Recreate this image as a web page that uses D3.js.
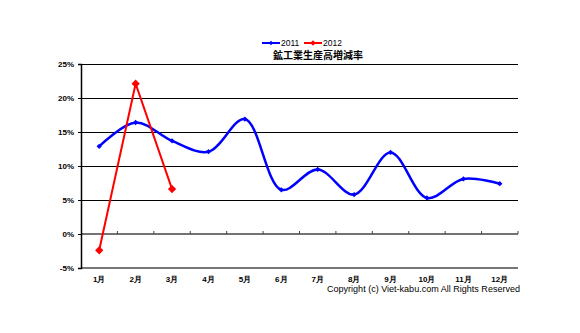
<!DOCTYPE html>
<html><head><meta charset="utf-8">
<script src="https://cdn.jsdelivr.net/npm/d3@7"></script>
<style>body{margin:0;background:#fff}svg{display:block}</style>
</head><body>
<script>
const months = ["1月","2月","3月","4月","5月","6月","7月","8月","9月","10月","11月","12月"];
const series2011 = [12.9,16.4,13.7,12.1,16.9,6.5,9.5,5.8,12.0,5.3,8.1,7.4];
const series2012 = [-2.4,22.1,6.6];
const yTicks = [-5,0,5,10,15,20,25];
const yTickLabels = ["-5%","0%","5%","10%","15%","20%","25%"];
const seriesNames = ["2011","2012"];
const title = "鉱工業生産高増減率";
const copyright = "Copyright (c) Viet-kabu.com All Rights Reserved";

const W=580,H=333;
const svg=d3.select("body").append("svg").attr("width",W).attr("height",H);
const x=d3.scaleBand().domain(months).range([81,518]);
const y=d3.scaleLinear().domain([-5,25]).range([268,64]);
const font="'Liberation Sans',Arial,sans-serif";

// gridlines
svg.append("g").selectAll("line").data(yTicks.filter(v=>v>0)).join("line")
 .attr("x1",81).attr("x2",518).attr("y1",d=>Math.round(y(d))+0.5).attr("y2",d=>Math.round(y(d))+0.5)
 .attr("stroke","#000").attr("stroke-width",1.2);
// zero line with ticks
svg.append("line").attr("x1",81).attr("x2",518).attr("y1",y(0)).attr("y2",y(0)).attr("stroke","#444").attr("stroke-width",1.5);
svg.append("g").selectAll("line").data(months).join("line")
 .attr("x1",d=>x(d)+x.bandwidth()).attr("x2",d=>x(d)+x.bandwidth())
 .attr("y1",y(0)-3).attr("y2",y(0)).attr("stroke","#444").attr("stroke-width",1);
// bottom line
svg.append("line").attr("x1",81).attr("x2",518).attr("y1",y(-5)).attr("y2",y(-5)).attr("stroke","#777").attr("stroke-width",2);
// left axis
const yAxis=d3.axisLeft(y).tickValues(yTicks).tickFormat((d,i)=>yTickLabels[i]).tickSize(3).tickPadding(4);
const ga=svg.append("g").attr("transform","translate(81,0)").call(yAxis);
ga.select(".domain").attr("stroke","#000").attr("stroke-width",1.5);
ga.selectAll(".tick line").attr("stroke","#000");
ga.selectAll("text").attr("font-family",font).attr("font-size",8).attr("font-weight","bold").attr("fill","#000");

// x labels
svg.append("g").selectAll("text").data(months).join("text")
 .attr("x",d=>x(d)+x.bandwidth()/2).attr("y",282).attr("text-anchor","middle")
 .attr("font-family",font).attr("font-size",8).attr("font-weight","bold").text(d=>d);

// 2011 smooth
const cx=(d,i)=>x(months[i])+x.bandwidth()/2;
svg.append("path").datum(series2011)
 .attr("d",d3.line().x(cx).y(d=>y(d)).curve(d3.curveCatmullRom.alpha(0.5)))
 .attr("fill","none").attr("stroke","#0000ff").attr("stroke-width",2.5);
const sq=d3.symbol().type(d3.symbolSquare);
svg.append("g").selectAll("path").data(series2011).join("path")
 .attr("transform",(d,i)=>`translate(${cx(d,i)},${y(d)}) rotate(45)`).attr("d",sq.size(14)()).attr("fill","#0000ff");
// 2012
svg.append("path").datum(series2012)
 .attr("d",d3.line().x(cx).y(d=>y(d)))
 .attr("fill","none").attr("stroke","#ff0000").attr("stroke-width",2);
svg.append("g").selectAll("path").data(series2012).join("path")
 .attr("transform",(d,i)=>`translate(${cx(d,i)},${y(d)}) rotate(45)`).attr("d",sq.size(34)()).attr("fill","#ff0000");

// legend
const colors=["#0000ff","#ff0000"];
const lg=svg.append("g");
[262,304].forEach((lx,i)=>{
  lg.append("line").attr("x1",lx).attr("x2",lx+18).attr("y1",43).attr("y2",43).attr("stroke",colors[i]).attr("stroke-width",2);
  lg.append("path").attr("transform",`translate(${lx+9},43) rotate(45)`).attr("d",sq.size(i?16:10)()).attr("fill",colors[i]);
  lg.append("text").attr("x",lx+19).attr("y",46).attr("font-family",font).attr("font-size",8.5).text(seriesNames[i]);
});
// title
svg.append("text").attr("x",318).attr("y",59).attr("text-anchor","middle")
 .attr("font-family","'Noto Sans CJK JP',sans-serif").attr("font-size",10).attr("font-weight","bold").text(title);
// copyright
svg.append("text").attr("x",327).attr("y",291.5).attr("textLength",193).attr("lengthAdjust","spacingAndGlyphs")
 .attr("font-family",font).attr("font-size",9.5).text(copyright);
</script>
</body></html>
